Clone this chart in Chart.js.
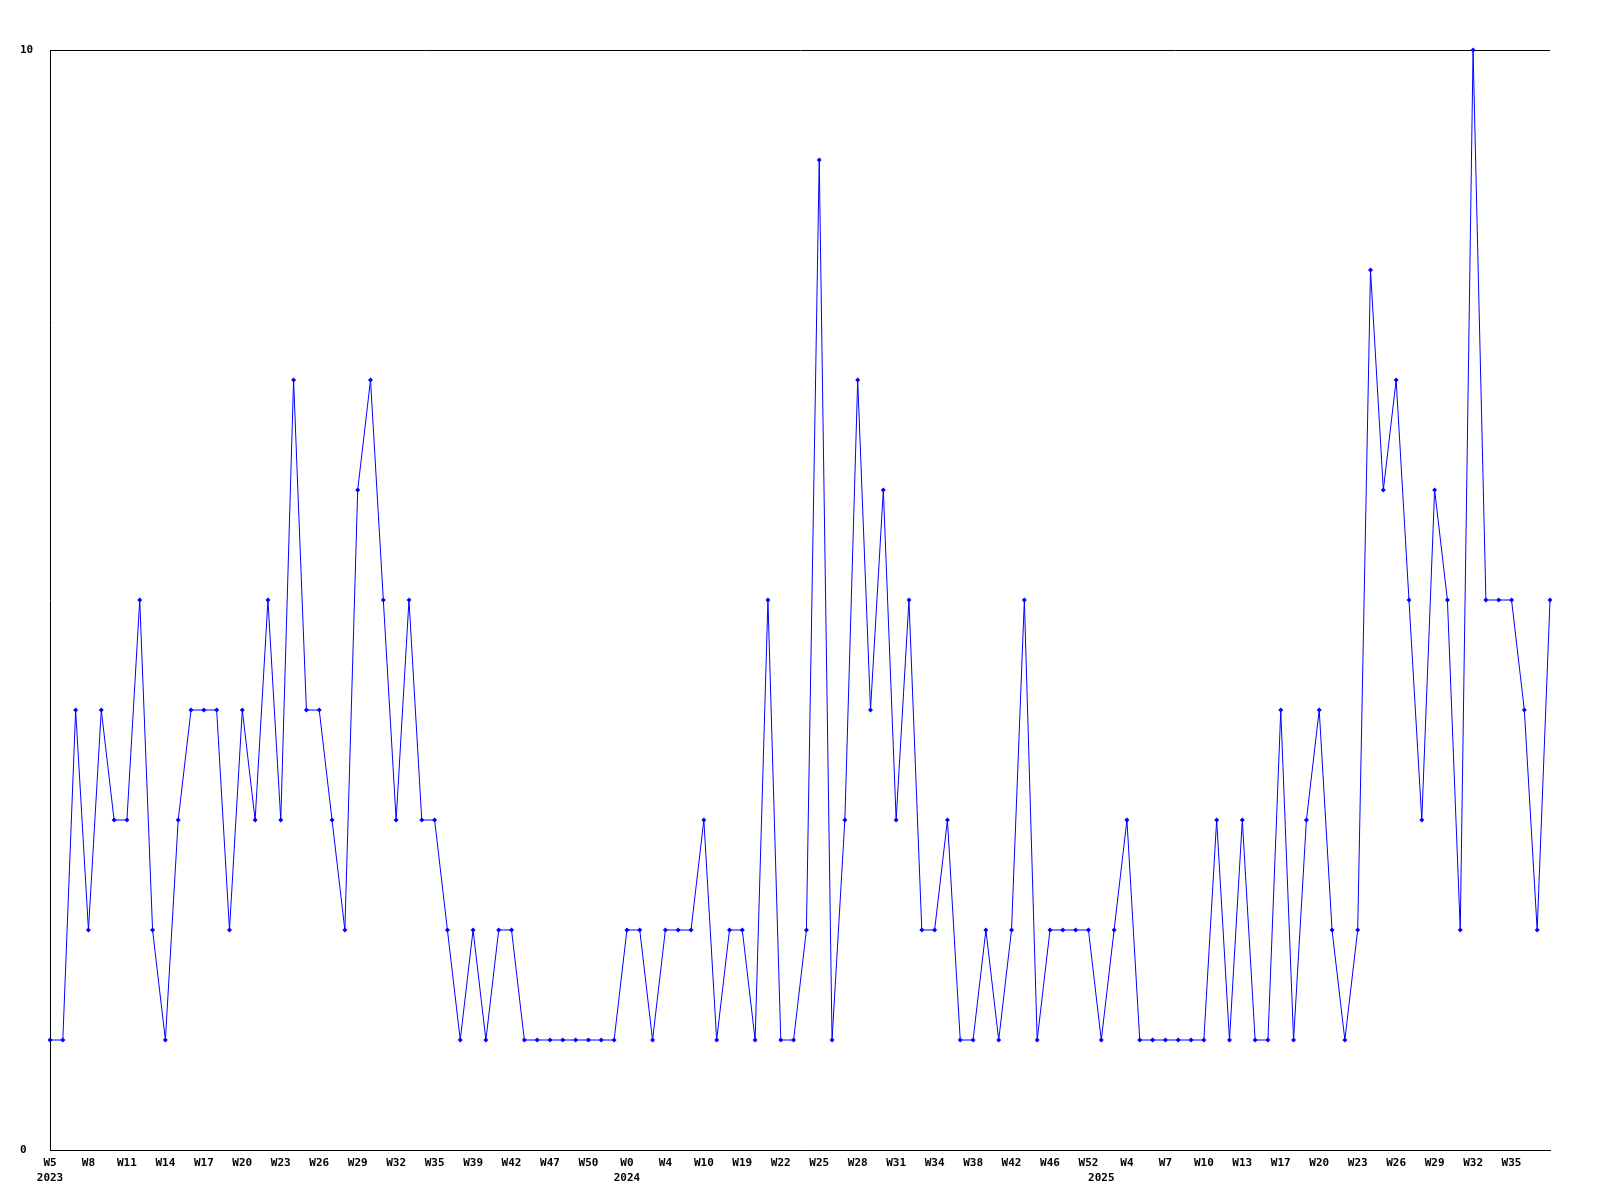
<!DOCTYPE html>
<html>
<head>
<meta charset="utf-8">
<script src="https://cdn.jsdelivr.net/npm/chart.js@4/dist/chart.umd.min.js"></script>
<style>
  body { margin: 0; background: #fff; }
  #wrap { width: 1600px; height: 1200px; }
</style>
</head>
<body>
<div id="wrap"><canvas id="weeklyChart" width="1600" height="1200"></canvas></div>
<script>
// weekly counts, one per week
const counts = [
    1, 1, 4, 2, 4, 3, 3, 5, 2, 1,
    3, 4, 4, 4, 2, 4, 3, 5, 3, 7,
    4, 4, 3, 2, 6, 7, 5, 3, 5, 3,
    3, 2, 1, 2, 1, 2, 2, 1, 1, 1,
    1, 1, 1, 1, 1, 2, 2, 1, 2, 2,
    2, 3, 1, 2, 2, 1, 5, 1, 1, 2,
    9, 1, 3, 7, 4, 6, 3, 5, 2, 2,
    3, 1, 1, 2, 1, 2, 5, 1, 2, 2,
    2, 2, 1, 2, 3, 1, 1, 1, 1, 1,
    1, 3, 1, 3, 1, 1, 4, 1, 3, 4,
    2, 1, 2, 8, 6, 7, 5, 3, 6, 5,
    2, 10, 5, 5, 5, 4, 2, 5,
];

// week tick labels, shown every third week
const weekTicks = [
    "W5", "W8", "W11", "W14", "W17", "W20", "W23", "W26", "W29", "W32",
    "W35", "W39", "W42", "W47", "W50", "W0", "W4", "W10", "W19", "W22",
    "W25", "W28", "W31", "W34", "W38", "W42", "W46", "W52", "W4", "W7",
    "W10", "W13", "W17", "W20", "W23", "W26", "W29", "W32", "W35",
];
const tickEvery = 3;

// year labels and the week index where each year starts
const years = ["2023", "2024", "2025"];
const yearStart = [0, 45, 82];

const labels = counts.map((v, i) => {
    const week = i % tickEvery === 0 ? (weekTicks[i / tickEvery] || "") : "";
    const y = yearStart.indexOf(i);
    return y >= 0 ? [week, years[y]] : week;
});

const tickFont = { family: "'DejaVu Sans Mono', monospace", size: 11, weight: "bold", lineHeight: 1.4 };

const data = {
    labels: labels,
    datasets: [
        {
            data: counts,
            borderColor: "#0000ff",
            backgroundColor: "#0000ff",
            borderWidth: 1,
            pointStyle: "rectRot",
            pointRadius: 2.5,
            pointBorderWidth: 0,
            pointHoverRadius: 2.5,
            tension: 0,
            clip: false,
        },
    ],
};

const config = {
    type: "line",
    data: data,
    options: {
        responsive: false,
        animation: false,
        layout: {
            padding: { left: 20, top: 50, right: 50, bottom: 0 },
        },
        plugins: {
            legend: { display: false },
            tooltip: { enabled: false },
        },
        scales: {
            x: {
                type: "category",
                offset: false,
                grid: { display: false },
                border: { display: true, color: "#000", width: 1 },
                ticks: {
                    autoSkip: false,
                    maxRotation: 0,
                    minRotation: 0,
                    padding: -3,
                    color: "#000",
                    font: tickFont,
                },
                afterFit: (scale) => { scale.height = 50; },
            },
            y: {
                min: 0,
                max: 10,
                grid: { display: true, color: "#000", lineWidth: 1, drawTicks: false },
                border: { display: true, color: "#000", width: 1 },
                ticks: {
                    stepSize: 10,
                    crossAlign: "far",
                    color: "#000",
                    font: tickFont,
                },
                afterFit: (scale) => { scale.width = 30; },
            },
        },
    },
};

new Chart(document.getElementById("weeklyChart"), config);
</script>
</body>
</html>
